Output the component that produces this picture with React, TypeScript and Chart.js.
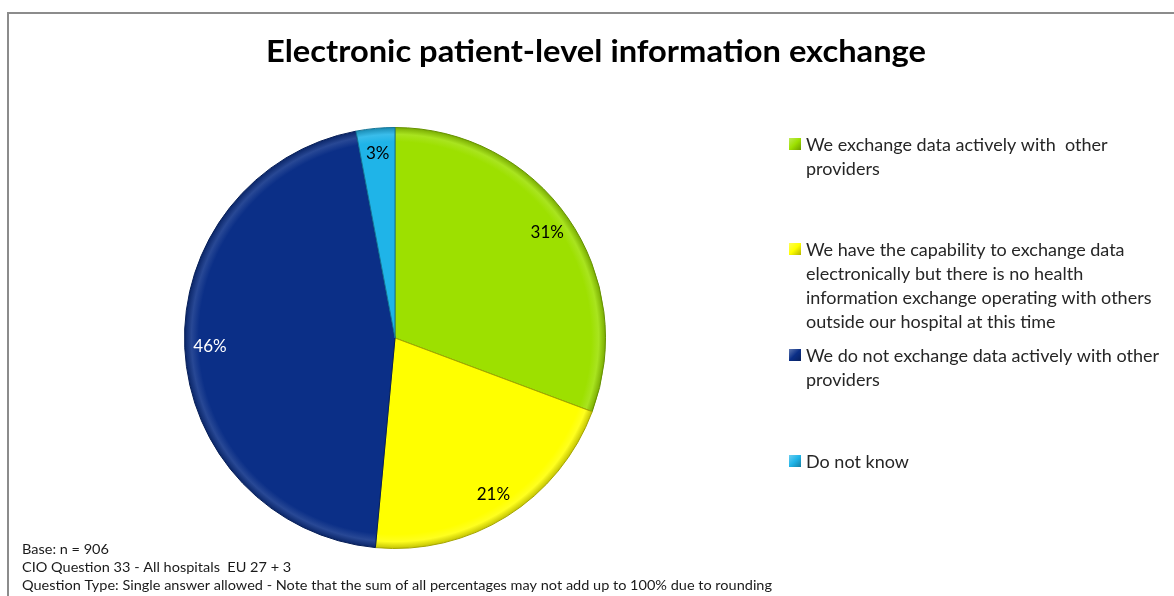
import React, { useEffect, useRef } from "react";
import { Chart, registerables } from "chart.js";

Chart.register(...registerables);

// ---------- data ----------
const chartTitle = "Electronic patient-level information exchange";
const categories: string[][] = [
  ["We exchange data actively with  other", "providers"],
  [
    "We have the capability to exchange data",
    "electronically but there is no health",
    "information exchange operating with others",
    "outside our hospital at this time",
  ],
  ["We do not exchange data actively with other", "providers"],
  ["Do not know"],
];
const values = [31, 21, 46, 3];
const footnotes = [
  "Base: n = 906",
  "CIO Question 33 - All hospitals  EU 27 + 3",
  "Question Type: Single answer allowed - Note that the sum of all percentages may not add up to 100% due to rounding",
];

// ---------- styles ----------
const sliceColors = ["#9de000", "#ffff00", "#0b2f87", "#1fb4e8"];
const labelColors = ["#000000", "#000000", "#ffffff", "#000000"];
const FONT = "Lato, 'Open Sans', sans-serif";

function shade(hex: string, f: number): string {
  const n = parseInt(hex.slice(1), 16);
  let r = (n >> 16) & 255, g = (n >> 8) & 255, b = n & 255;
  const m = (c: number) =>
    Math.max(0, Math.min(255, Math.round(f >= 0 ? c + (255 - c) * f : c * (1 + f))));
  return `rgb(${m(r)},${m(g)},${m(b)})`;
}

function drawFitted(ctx: CanvasRenderingContext2D, text: string, x: number, y: number, ratio: number) {
  ctx.save();
  ctx.translate(x, y);
  ctx.scale(ratio, 1);
  ctx.fillText(text, 0, 0);
  ctx.restore();
}

const overlayPlugin = {
  id: "overlay",
  beforeDraw(chart: any) {
    const ctx: CanvasRenderingContext2D = chart.ctx;
    ctx.save();
    ctx.fillStyle = "#ffffff";
    ctx.fillRect(0, 0, chart.width, chart.height);
    ctx.strokeStyle = "#8c8c8c";
    ctx.lineWidth = 2;
    ctx.strokeRect(8, 13, 3000, 3000);
    ctx.restore();
  },
  afterDraw(chart: any) {
    const ctx: CanvasRenderingContext2D = chart.ctx;
    ctx.save();
    ctx.textAlign = "left";
    ctx.textBaseline = "alphabetic";

    // title
    ctx.fillStyle = "#000000";
    ctx.font = `bold 30px ${FONT}`;
    const tr = 660 / ctx.measureText(chartTitle).width;
    drawFitted(ctx, chartTitle, 266, 62, tr);

    // legend
    const labels: string[][] = chart.data.labels;
    const colors: string[] = chart.data.datasets[0].baseColors;
    const baselines = [151, 256, 362, 468];
    ctx.font = `17px ${FONT}`;
    const lr = 353 / ctx.measureText(labels[2][0]).width;
    labels.forEach((lines, i) => {
      const by = baselines[i];
      const g = ctx.createLinearGradient(789, by - 13, 801, by - 1);
      g.addColorStop(0, shade(colors[i], 0.35));
      g.addColorStop(0.5, colors[i]);
      g.addColorStop(1, shade(colors[i], -0.3));
      ctx.fillStyle = g;
      ctx.fillRect(789, by - 13, 12, 12);
      ctx.fillStyle = "#262626";
      lines.forEach((ln, j) => drawFitted(ctx, ln, 806, by + j * 24, lr));
    });

    // footnotes
    ctx.fillStyle = "#1a1a1a";
    ctx.font = `14px ${FONT}`;
    const fr = 750 / ctx.measureText(footnotes[2]).width;
    footnotes.forEach((t, i) => drawFitted(ctx, t, 22, 554 + i * 18, fr));

    // slice labels
    const meta = chart.getDatasetMeta(0);
    const data: number[] = chart.data.datasets[0].data;
    ctx.font = `17px ${FONT}`;
    ctx.textAlign = "center";
    ctx.textBaseline = "middle";
    meta.data.forEach((arc: any, i: number) => {
      const p = arc.getProps(["x", "y", "startAngle", "endAngle", "outerRadius"], true);
      const mid = (p.startAngle + p.endAngle) / 2;
      const r = p.outerRadius * 0.88;
      ctx.fillStyle = labelColors[i];
      ctx.fillText(`${Math.round(data[i])}%`, p.x + Math.cos(mid) * r, p.y + Math.sin(mid) * r);
    });
    ctx.restore();
  },
};

export default function App() {
  const ref = useRef<HTMLCanvasElement | null>(null);
  useEffect(() => {
    document.body.style.margin = "0";
    const canvas = ref.current!;
    const chart = new Chart(canvas, {
      type: "pie",
      data: {
        labels: categories as any,
        datasets: [
          {
            data: values,
            baseColors: sliceColors,
            backgroundColor: (c: any) => {
              const base = sliceColors[c.dataIndex];
              const ca = c.chart.chartArea;
              if (!ca) return base;
              const cx = (ca.left + ca.right) / 2;
              const cy = (ca.top + ca.bottom) / 2;
              const R = Math.min(ca.right - ca.left, ca.bottom - ca.top) / 2;
              const g = c.chart.ctx.createRadialGradient(cx, cy, 0, cx, cy, R);
              g.addColorStop(0, base);
              g.addColorStop(0.93, base);
              g.addColorStop(0.965, shade(base, 0.12));
              g.addColorStop(1, shade(base, -0.25));
              return g;
            },
            borderColor: sliceColors.map((s) => shade(s, -0.35)),
            borderWidth: 1,
          } as any,
        ],
      },
      options: {
        responsive: false,
        animation: false,
        devicePixelRatio: 1,
        layout: { padding: { left: 184, right: 568, top: 127, bottom: 47 } },
        plugins: {
          legend: { display: false },
          tooltip: { enabled: false },
          title: { display: false },
        },
      },
      plugins: [overlayPlugin],
    });
    return () => chart.destroy();
  }, []);
  return (
    <div style={{ position: "fixed", left: 0, top: 0, width: 1174, height: 596, background: "#fff" }}>
      <canvas ref={ref} width={1174} height={596} style={{ display: "block" }} />
    </div>
  );
}
